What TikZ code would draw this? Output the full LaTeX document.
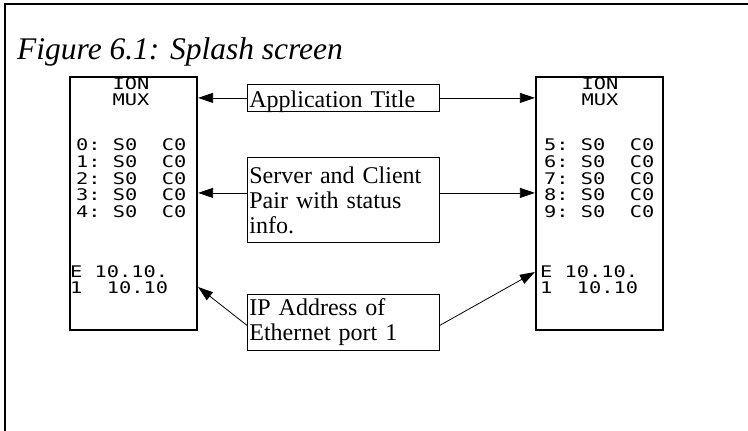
\documentclass[tikz,border=0pt]{standalone}
\usepackage{fontspec}
\setmainfont{Liberation Serif}
\newfontfamily\lcdfont[FakeStretch=1.27]{DejaVu Sans Mono}
\usetikzlibrary{arrows.meta}

\begin{document}
\begin{tikzpicture}[x=1pt, y=-1pt,
    screen/.style={draw, line width=2.2pt, minimum width=127pt, minimum height=253pt, inner sep=0pt},
    lcd/.style={font=\lcdfont\fontsize{16}{16}\selectfont, inner sep=0pt},
    tag/.style={draw, line width=0.8pt, anchor=north west, align=left, text width=188pt,
        inner xsep=2pt, inner ysep=0pt, font=\fontsize{24}{25}\selectfont},
    pointer/.style={-{Triangle[length=15pt,width=10pt]}, line width=0.8pt}]
    \useasboundingbox (0,0) rectangle (748,431);
    \draw[line width=1.5pt] (5,431) -- (5,4) -- (748,4);
    \node[anchor=base west, inner sep=0pt, font=\itshape\fontsize{31.5}{31.5}\selectfont] (title) at (17,59) {Figure 6.1: Splash screen};
    % left screen
    \node[screen] (lscr) at (133.5,203.5) {};
    \node[lcd] (lion) at (131,84) {ION};
    \node[lcd] (lmux) at (131,99.5) {MUX};
    \foreach \n in {0,...,4}
        \node[lcd, anchor=west] (lrow\n) at (76,145+16.7*\n) {\n:~S0~~C0};
    \node[lcd, anchor=west] (leth) at (70,272) {E~10.10.};
    \node[lcd, anchor=west] (lport) at (70,288) {1~~10.10};
    % right screen
    \node[screen] (rscr) at (599.5,203.5) {};
    \node[lcd] (rion) at (600,84) {ION};
    \node[lcd] (rmux) at (600,99.5) {MUX};
    \foreach \n in {5,...,9}
        \node[lcd, anchor=west] (rrow\n) at (544,145+16.7*\n-83.5) {\n:~S0~~C0};
    \node[lcd, anchor=west] (reth) at (540,272) {E~10.10.};
    \node[lcd, anchor=west] (rport) at (540,288) {1~~10.10};
    % callouts
    \node[tag, minimum height=27pt, text height=21pt, text depth=2pt] (apptitle) at (247,84) {Application Title};
    \node[tag, minimum height=85pt] (pairs) at (247,157) {Server and Client\\Pair with status\\info.};
    \node[tag, minimum height=56pt] (ipaddr) at (247,294) {IP Address of\\Ethernet port 1};
    \coordinate (pl) at ([yshift=7pt]pairs.west);
    \coordinate (pr) at ([yshift=7pt]pairs.east);
    \draw[pointer] (apptitle.west) -- (apptitle.west -| lscr.east);
    \draw[pointer] (apptitle.east) -- (apptitle.east -| rscr.west);
    \draw[pointer] (pl) -- (pl -| lscr.east);
    \draw[pointer] (pr) -- (pr -| rscr.west);
    \draw[pointer] ([yshift=-3pt]ipaddr.west) -- ([yshift=-83.5pt]lscr.east);
    \draw[pointer] ([yshift=-3pt]ipaddr.east) -- ([yshift=-68.5pt]rscr.west);
\end{tikzpicture}
\end{document}
